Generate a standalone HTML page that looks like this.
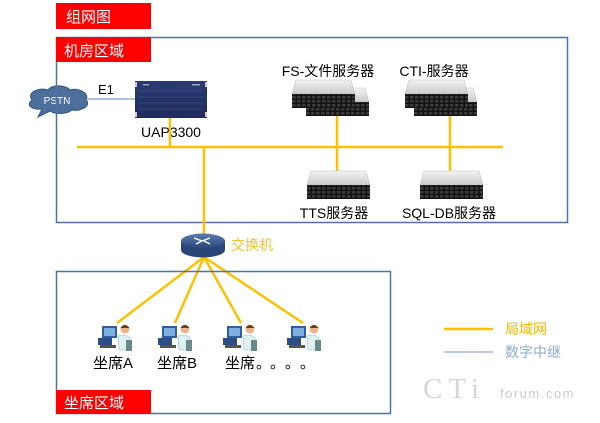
<!DOCTYPE html>
<html><head><meta charset="utf-8">
<style>
html,body{margin:0;padding:0;background:#fff;}
svg{display:block;}
text{font-family:"Liberation Sans","Noto Sans CJK SC",sans-serif;}
</style></head>
<body>
<svg width="600" height="423" viewBox="0 0 600 423" xmlns="http://www.w3.org/2000/svg">
<defs>
  <linearGradient id="topg" x1="0" y1="0" x2="0" y2="1">
    <stop offset="0" stop-color="#f4f4f4"/><stop offset="1" stop-color="#c9c9c9"/>
  </linearGradient>
  <linearGradient id="uapg" x1="0" y1="0" x2="0" y2="1">
    <stop offset="0" stop-color="#2b3b72"/><stop offset="1" stop-color="#1f2c5c"/>
  </linearGradient>
  <linearGradient id="swg" x1="0" y1="0" x2="0" y2="1">
    <stop offset="0" stop-color="#5a7bb0"/><stop offset="1" stop-color="#2a4678"/>
  </linearGradient>
  <pattern id="grid" width="5" height="4" patternUnits="userSpaceOnUse">
    <rect width="5" height="4" fill="#111"/>
    <rect x="0" y="0" width="3.5" height="2.6" fill="#3a3a3a"/>
  </pattern>
  <g id="srv">
    <polygon points="4,0 59,0 63,14 0,14" fill="url(#topg)" stroke="#bbb" stroke-width="0.5"/>
    <rect x="0" y="14" width="63" height="14" fill="url(#grid)"/>
  </g>
  <g id="agent">
    <rect x="4" y="3" width="15" height="12" fill="#2f5fa0"/>
    <rect x="6" y="5" width="11" height="8" fill="#7fb0e0"/>
    <rect x="0" y="15" width="14" height="7" fill="#2d4f88"/>
    <rect x="2" y="22" width="16" height="3" fill="#555"/>
    <circle cx="27" cy="6" r="4.5" fill="#e9b48a"/>
    <path d="M22.5,5 q4,-6 9,0" fill="#6b3a20"/>
    <path d="M20,13 q7,-3 12,2 l1,12 h-12 z" fill="#dff0f0" stroke="#9bb" stroke-width="0.6"/>
    <rect x="28" y="17" width="6" height="11" fill="#6a8a8a"/>
  </g>
</defs>

<!-- title -->
<rect x="56" y="3" width="95" height="26" fill="#ff0000"/>
<text x="66" y="22" font-size="15" fill="#fff">组网图</text>

<!-- PSTN cloud -->
<path d="M32,100 C26,92 40,87 48,90 C52,84 66,85 70,90 C78,87 90,93 86,100 C92,106 80,112 72,110 C66,115 54,114 50,111 L38,117 L42,109 C30,110 26,104 32,100 Z" fill="#4c6f9c" stroke="#34557f" stroke-width="1"/>
<text x="57" y="104" font-size="10" fill="#fff" text-anchor="middle">PSTN</text>

<!-- machine room border -->
<rect x="56.5" y="37.5" width="511" height="185" fill="none" stroke="#4f73a8" stroke-width="1.5"/>
<rect x="56" y="37" width="95" height="25" fill="#ff0000"/>
<text x="64" y="56" font-size="15" fill="#fff">机房区域</text>

<!-- E1 line -->
<line x1="86" y1="99" x2="135" y2="99" stroke="#5b7fb4" stroke-width="1"/>
<text x="98" y="94" font-size="13" fill="#000">E1</text>

<!-- UAP -->
<rect x="135" y="81" width="72" height="37" fill="url(#uapg)"/>
<g stroke="#3a4d88" stroke-width="0.8">
  <line x1="139" y1="91" x2="203" y2="91"/><line x1="139" y1="97" x2="203" y2="97"/>
  <line x1="139" y1="103" x2="203" y2="103"/><line x1="139" y1="109" x2="203" y2="109"/>
</g>
<rect x="135" y="82" width="2" height="5" fill="#ccc"/><rect x="205" y="82" width="2" height="5" fill="#ccc"/>
<rect x="135" y="112" width="2" height="5" fill="#ccc"/><rect x="205" y="112" width="2" height="5" fill="#ccc"/>
<rect x="143" y="84" width="6" height="1.5" fill="#9aa"/><rect x="192" y="84" width="8" height="1.5" fill="#9aa"/>
<text x="171" y="137" font-size="14" fill="#000" text-anchor="middle">UAP3300</text>

<!-- yellow LAN lines -->
<g stroke="#ffc000" stroke-width="2.5" fill="none">
  <line x1="170" y1="118" x2="170" y2="147"/>
  <line x1="77" y1="147" x2="503" y2="147"/>
  <line x1="204" y1="147" x2="204" y2="234"/>
  <line x1="337" y1="112" x2="337" y2="172"/>
  <line x1="450" y1="112" x2="450" y2="172"/>
  <line x1="204" y1="257" x2="117" y2="323"/>
  <line x1="204" y1="257" x2="175" y2="323"/>
  <line x1="204" y1="257" x2="241" y2="323"/>
  <line x1="204" y1="257" x2="303" y2="323"/>
</g>

<!-- servers -->
<text x="328" y="76" font-size="14" fill="#000" text-anchor="middle">FS-文件服务器</text>
<use href="#srv" x="306" y="88"/>
<use href="#srv" x="292" y="80"/>

<text x="434" y="76" font-size="14" fill="#000" text-anchor="middle">CTI-服务器</text>
<use href="#srv" x="414" y="88"/>
<use href="#srv" x="405" y="80"/>

<use href="#srv" x="307" y="171"/>
<text x="334" y="218" font-size="14" fill="#000" text-anchor="middle">TTS服务器</text>

<use href="#srv" x="420" y="171"/>
<text x="449" y="218" font-size="14" fill="#000" text-anchor="middle">SQL-DB服务器</text>

<!-- switch -->
<path d="M181,241 L181,250 A22,7.5 0 0 0 225,250 L225,241 Z" fill="#2a4678"/>
<ellipse cx="203" cy="241" rx="22" ry="7.5" fill="url(#swg)"/>
<g stroke="#fff" stroke-width="1.4" fill="none">
  <path d="M194,238 l8,3 M210,238 l-8,3 M196,244 l6,-3 M210,244 l-6,-3"/>
</g>
<text x="231" y="250" font-size="14" fill="#f2c230">交换机</text>

<!-- agent area -->
<rect x="56.5" y="271.5" width="334" height="142" fill="none" stroke="#4f73a8" stroke-width="1.5"/>
<rect x="56" y="390" width="95" height="24" fill="#ff0000"/>
<text x="64" y="408" font-size="15" fill="#fff">坐席区域</text>

<use href="#agent" x="98" y="323"/>
<use href="#agent" x="158" y="323"/>
<use href="#agent" x="223" y="323"/>
<use href="#agent" x="287" y="323"/>

<text x="93" y="368" font-size="15" fill="#000">坐席A</text>
<text x="157" y="368" font-size="15" fill="#000">坐席B</text>
<text x="225" y="368" font-size="15" fill="#000">坐席<tspan x="256">。</tspan><tspan x="270">。</tspan><tspan x="285">。</tspan><tspan x="300">。</tspan></text>

<!-- legend -->
<line x1="444" y1="329" x2="493" y2="329" stroke="#ffc000" stroke-width="2.5"/>
<text x="505" y="334" font-size="14" fill="#f0b400">局域网</text>
<line x1="444" y1="352" x2="493" y2="352" stroke="#8fa9d0" stroke-width="1.2"/>
<text x="505" y="357" font-size="14" fill="#8fa9d0">数字中继</text>

<!-- watermark -->
<text x="423" y="398" style="font-family:'Liberation Serif',serif;font-size:29px;letter-spacing:6px;" fill="#d6d6d6">CTi</text>
<text x="500" y="398" style="font-size:13px;letter-spacing:1.5px;" fill="#cccccc">forum.com</text>
</svg>
</body></html>
